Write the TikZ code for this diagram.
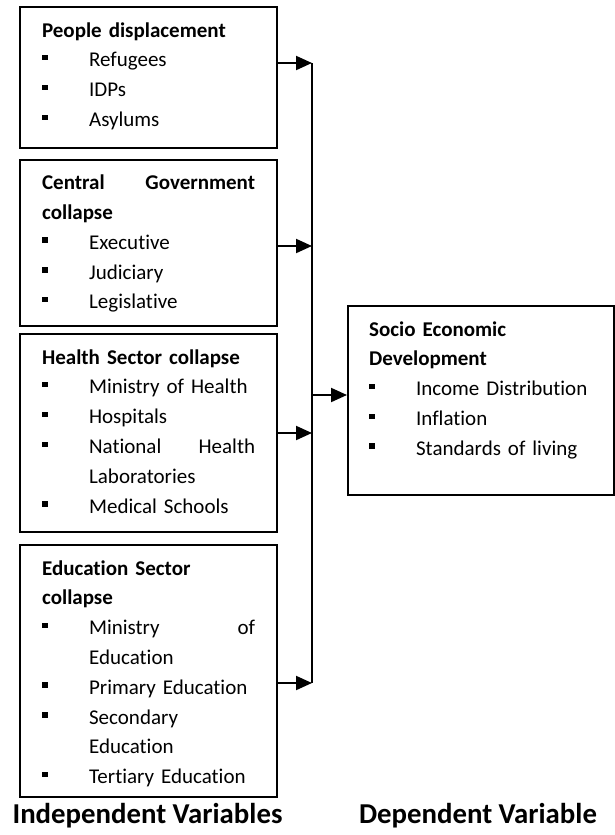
\documentclass[tikz,border=0pt]{standalone}
\usepackage{fontspec}
\setmainfont{Carlito}[Ligatures=NoCommon]
\usetikzlibrary{arrows.meta}
\newcommand{\vbul}{\makebox[47pt][l]{\rule[6.5pt]{5.5pt}{5.5pt}}}
\newcommand{\vhead}[1]{\noindent\textbf{#1}}
\newcommand{\vitem}[1]{\par\hangindent=47pt\hangafter=1\noindent\vbul #1}
\begin{document}
\begin{tikzpicture}[x=1pt,y=-1pt,
varbox/.style={draw,line width=2.2pt,anchor=north west,text width=213pt,
  inner xsep=22pt,inner ysep=0pt,align=left,text height=30pt,text depth=#1,
  font=\fontsize{21}{29.8}\selectfont},
link/.style={line width=2pt,-{Triangle[length=16pt,width=14pt]}},
caption/.style={anchor=base,font=\fontsize{28.8}{32}\selectfont\bfseries}]
\useasboundingbox (0,0) rectangle (615,835);
%people
  \node[varbox=111pt] (pd) at (19,6) {\vhead{People displacement}
    \vitem{Refugees}\vitem{IDPs}\vitem{Asylums}};
%government
  \node[varbox=136.5pt] (cg) at (19,158.5) {\vhead{Central\hfill Government\newline collapse}
    \vitem{Executive}\vitem{Judiciary}\vitem{Legislative}};
%health
  \node[varbox=168pt] (hs) at (19,333) {\vhead{Health Sector collapse}
    \vitem{Ministry of Health}\vitem{Hospitals}
    \vitem{National\hfill Health\newline Laboratories}\vitem{Medical Schools}};
%education
  \node[varbox=222pt] (es) at (19,544) {\vhead{Education Sector\newline collapse}
    \vitem{Ministry\hfill of\newline Education}\vitem{Primary Education}
    \vitem{Secondary\newline Education}\vitem{Tertiary Education}};
%dependent
  \node[varbox=159pt,text width=224pt,inner xsep=21pt] (se) at (347,305)
    {\vhead{Socio Economic\newline Development}
    \vitem{Income Distribution}\vitem{Inflation}\vitem{Standards of living}};
%junctions
  \coordinate (j1) at (312,63);
  \coordinate (j2) at (312,246);
  \coordinate (j3) at (312,433);
  \coordinate (j4) at (312,683);
  \coordinate (jo) at (312,395);
%paths
  \draw[link] (pd.east |- j1) -- (j1);
  \draw[link] (cg.east |- j2) -- (j2);
  \draw[link] (hs.east |- j3) -- (j3);
  \draw[link] (es.east |- j4) -- (j4);
  \draw[line width=2pt] (j1) -- (j4);
  \draw[link] (jo) -- (se.west |- jo);
%captions
  \node[caption] (iv) at (147.5,823) {Independent Variables};
  \node[caption] (dv) at (478,823) {Dependent Variable};
\end{tikzpicture}
\end{document}
